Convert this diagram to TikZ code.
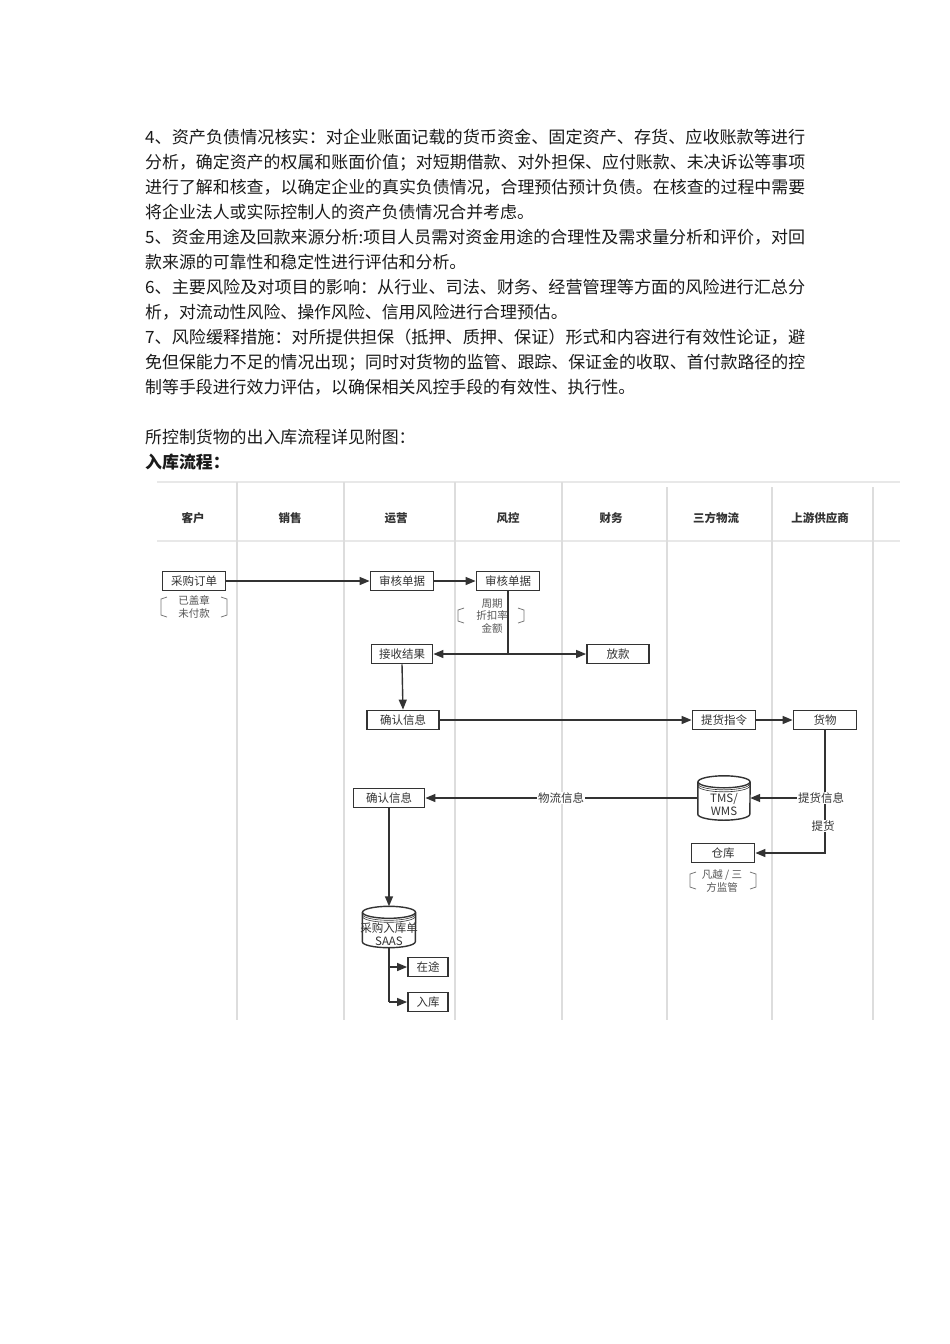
\documentclass[tikz,border=0pt]{standalone}
\usepackage{fontspec}
\setmainfont{Noto Sans CJK SC}
\usepackage{graphicx}
\usetikzlibrary{arrows.meta,calc}
\definecolor{txt}{HTML}{1A1A1A}
\definecolor{ln}{HTML}{333333}
\definecolor{lanec}{HTML}{DDDDDD}
\definecolor{headc}{HTML}{E8E8E8}
\definecolor{notec}{HTML}{555555}
\newcommand{\jline}[1]{\resizebox{660pt}{\height}{#1}}
\newcommand{\drawcyl}[1]{%
  \fill[white] ($(#1.north west)+(0,6)$) rectangle ($(#1.south east)+(0,-6)$);
  \fill[white] ($(#1.south)+(0,-6)$) ellipse[x radius=0.5*\cylw, y radius=6];
  \draw[cylline] ($(#1.north west)+(0,6)$) -- ($(#1.south west)+(0,-6)$)
     arc[start angle=180, end angle=0, x radius=0.5*\cylw, y radius=6]
     -- ($(#1.north east)+(0,6)$);
  \draw[cylline, fill=white] ($(#1.north)+(0,6)$) ellipse[x radius=0.5*\cylw, y radius=6];
  \draw[cylthin] ($(#1.north west)+(0,8)$) arc[start angle=180, end angle=0, x radius=0.5*\cylw, y radius=6];
  \draw[cylthin] ($(#1.north west)+(0,10)$) arc[start angle=180, end angle=0, x radius=0.5*\cylw, y radius=6];
}
\newcommand{\brackets}[5]{% left x, right x, top y, bottom y, tick
  \draw[brk] (#1+#5,#3) -- (#1,#3+2) -- (#1,#4-2) -- (#1+#5,#4);
  \draw[brk] (#2-#5,#3) -- (#2,#3+2) -- (#2,#4-2) -- (#2-#5,#4);
}
\begin{document}
\begin{tikzpicture}[x=1pt,y=-1pt,
  bodyline/.style={anchor=base west, font=\fontsize{16.9}{20}\selectfont, text=txt, inner sep=0pt},
  lanehead/.style={font=\fontsize{11.5}{13}\selectfont\bfseries, text=ln, inner sep=0pt},
  box/.style={draw=ln, line width=1.8pt, fill=white, text=ln, font=\fontsize{11.5}{13}\selectfont, minimum height=19pt, inner sep=0pt},
  flow/.style={draw=ln, line width=1.4pt, -{Triangle[length=10pt,width=8pt]}},
  plainline/.style={draw=ln, line width=1.4pt},
  notetext/.style={text=notec, font=\fontsize{10.5}{12.5}\selectfont, align=center, inner sep=0pt},
  brk/.style={draw=notec!80, line width=0.8pt},
  lbl/.style={fill=white, text=ln, font=\fontsize{11.5}{13}\selectfont, inner sep=1pt},
  cyltext/.style={text=ln, font=\fontsize{11.5}{13}\selectfont, align=center, inner sep=0pt},
  cylline/.style={draw=ln, line width=1.4pt},
  cylthin/.style={draw=ln, line width=0.6pt},
  lane/.style={draw=lanec, line width=1.2pt},
  headline/.style={draw=headc, line width=1.2pt},
]
\useasboundingbox (0,0) rectangle (950,1344);
\fill[white] (0,0) rectangle (950,1344);

% ---------- body text ----------
\node[bodyline] (t1) at (145,143) {\jline{4、资产负债情况核实：对企业账面记载的货币资金、固定资产、存货、应收账款等进行}};
\node[bodyline] (t2) at (145,168) {\jline{分析，确定资产的权属和账面价值；对短期借款、对外担保、应付账款、未决诉讼等事项}};
\node[bodyline] (t3) at (145,193) {\jline{进行了解和核查，以确定企业的真实负债情况，合理预估预计负债。在核查的过程中需要}};
\node[bodyline] (t4) at (145,218) {将企业法人或实际控制人的资产负债情况合并考虑。};
\node[bodyline] (t5) at (145,243) {\jline{5、资金用途及回款来源分析:项目人员需对资金用途的合理性及需求量分析和评价，对回}};
\node[bodyline] (t6) at (145,268) {款来源的可靠性和稳定性进行评估和分析。};
\node[bodyline] (t7) at (145,293) {\jline{6、主要风险及对项目的影响：从行业、司法、财务、经营管理等方面的风险进行汇总分}};
\node[bodyline] (t8) at (145,318) {析，对流动性风险、操作风险、信用风险进行合理预估。};
\node[bodyline] (t9) at (145,343) {\jline{7、风险缓释措施：对所提供担保（抵押、质押、保证）形式和内容进行有效性论证，避}};
\node[bodyline] (t10) at (145,368) {\jline{免但保能力不足的情况出现；同时对货物的监管、跟踪、保证金的收取、首付款路径的控}};
\node[bodyline] (t11) at (145,393) {制等手段进行效力评估，以确保相关风控手段的有效性、执行性。};
\node[bodyline] (t12) at (145,443) {所控制货物的出入库流程详见附图：};
\node[bodyline, font=\fontsize{16.9}{20}\selectfont\bfseries] (t13) at (145,468) {入库流程：};

% ---------- swimlanes ----------
\draw[headline] (157,482) -- (900,482);
\draw[headline] (157,541) -- (900,541);
\foreach \lx in {237,344,455,562} \draw[lane] (\lx,482) -- (\lx,1020);
\foreach \lx in {667,772,873} \draw[lane] (\lx,487) -- (\lx,1020);
\node[lanehead] (h1) at (193,518) {客户};
\node[lanehead] (h2) at (290,518) {销售};
\node[lanehead] (h3) at (396,518) {运营};
\node[lanehead] (h4) at (508,518) {风控};
\node[lanehead] (h5) at (611,518) {财务};
\node[lanehead] (h6) at (716,518) {三方物流};
\node[lanehead] (h7) at (820,518) {上游供应商};

% ---------- boxes ----------
\node[box, minimum width=63pt] (po) at (194,581) {采购订单};
\node[box, minimum width=63pt] (op1) at (402,581) {审核单据};
\node[box, minimum width=63pt] (rk) at (508,581) {审核单据};
\node[box, minimum width=61pt] (rcv) at (402,654) {接收结果};
\node[box, minimum width=62pt] (pay) at (618,654) {放款};
\node[box, minimum width=72pt] (cf1) at (403,720) {确认信息};
\node[box, minimum width=63pt] (cmd) at (724,720) {提货指令};
\node[box, minimum width=63pt] (goods) at (825,720) {货物};
\node[box, minimum width=71pt] (cf2) at (389,798) {确认信息};
\node[box, minimum width=63pt] (wh) at (723,853) {仓库};
\node[box, minimum width=40pt] (zt) at (428,967) {在途};
\node[box, minimum width=40pt] (rk2) at (428,1002) {入库};

% ---------- notes ----------
\node[notetext] (n1) at (194,607) {已盖章\\未付款};
\brackets{161}{227}{597}{617}{6}
\node[notetext] (n2) at (492,616) {周期\\折扣率\\金额};
\brackets{458}{524}{608}{623}{6}
\node[notetext] (n3) at (722,881) {凡越 / 三\\方监管};
\brackets{690}{756}{872}{889}{6}

% ---------- cylinders ----------
\def\cylw{52}
\node[minimum width=52pt, minimum height=44pt, inner sep=0pt] (tms) at (724,798) {};
\drawcyl{tms}
\node[cyltext] (tmst) at (724,804) {TMS/\\WMS};
\def\cylw{53}
\node[minimum width=53pt, minimum height=41pt, inner sep=0pt] (saas) at (389,927) {};
\drawcyl{saas}
\node[cyltext] (saast) at (389,934) {采购入库单\\SAAS};

% ---------- connectors ----------
\draw[flow] (po.east) -- (op1.west);
\draw[flow] (op1.east) -- (rk.west);
\coordinate (j1) at (rk.south |- rcv.east);
\draw[plainline] (rk.south) -- (j1);
\draw[flow] (j1) -- (rcv.east);
\draw[flow] (j1) -- (pay.west);
\draw[flow] (rcv.south) -- (cf1.north);
\draw[flow] (cf1.east) -- (cmd.west);
\draw[flow] (cmd.east) -- (goods.west);
\coordinate (j2) at (goods.south |- tms.east);
\coordinate (j3) at (goods.south |- wh.east);
\draw[flow] (goods.south) -- (j3) -- (wh.east);
\draw[flow] (j2) -- (tms.east);
\node[lbl] (lb1) at (821,798) {提货信息};
\node[lbl] (lb2) at (823,826) {提货};
\draw[flow] (tms.west) -- (cf2.east);
\node[lbl] (lb3) at (561,798) {物流信息};
\draw[flow] (cf2.south) -- (saas.north);
\coordinate (j4) at (saas.south |- zt.west);
\coordinate (j5) at (saas.south |- rk2.west);
\draw[plainline] (saas.south) -- (j5);
\draw[flow] (j4) -- (zt.west);
\draw[flow] (j5) -- (rk2.west);
\end{tikzpicture}
\end{document}
